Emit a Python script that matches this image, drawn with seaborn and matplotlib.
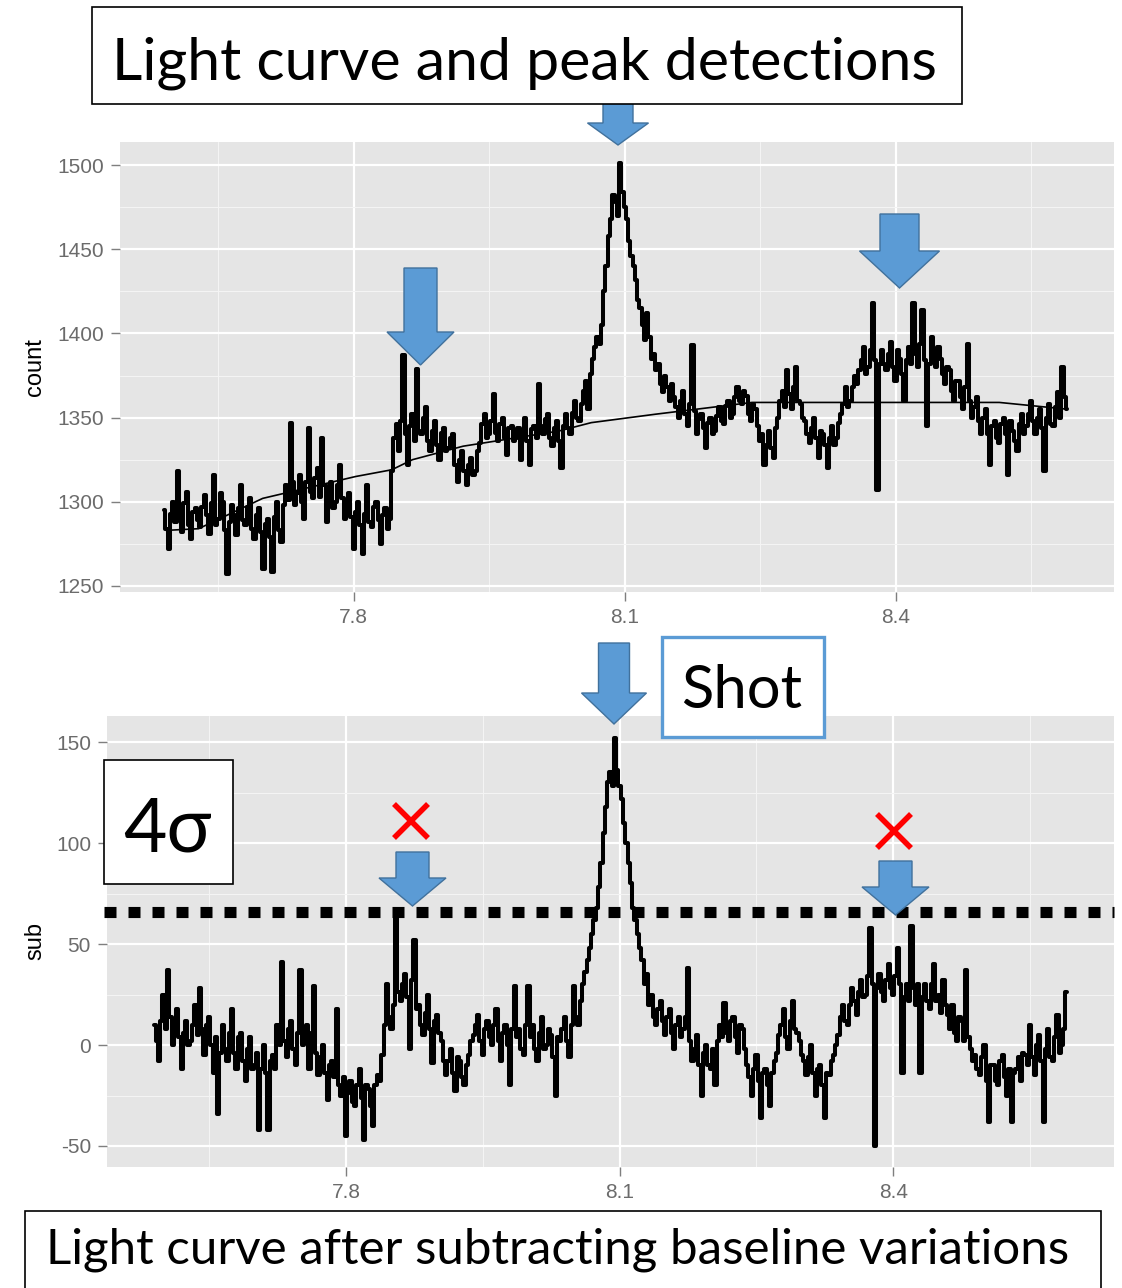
import numpy as np
import pandas as pd
import seaborn as sns
import matplotlib.pyplot as plt
from matplotlib.patches import Rectangle, Polygon
from matplotlib.lines import Line2D

W, H = 1122, 1288
BLUE = "#5B9BD5"
BLUE_EDGE = "#41719C"
PANEL = "#E5E5E5"
ANNOT_FONT = ["Lato", "DejaVu Sans"]

# light curve sampled every 0.0025 starting at 7.59
T_START = 7.59
T_STEP = 0.0025

COUNT = [
    1295, 1284, 1272, 1293, 1300, 1288, 1318, 1296, 1282, 1299, 1306, 1286, 1278, 1294, 1296, 1289, 1285, 1297, 1304, 1292,
    1281, 1299, 1316, 1286, 1290, 1305, 1300, 1283, 1257, 1288, 1298, 1292, 1280, 1296, 1310, 1289, 1286, 1297, 1302, 1284,
    1278, 1292, 1296, 1282, 1260, 1287, 1290, 1279, 1258, 1291, 1300, 1283, 1276, 1298, 1310, 1301, 1347, 1312, 1298, 1305,
    1316, 1300, 1290, 1312, 1344, 1306, 1302, 1314, 1320, 1303, 1338, 1310, 1288, 1304, 1312, 1296, 1300, 1310, 1322, 1302,
    1290, 1298, 1305, 1291, 1272, 1294, 1300, 1286, 1269, 1293, 1310, 1288, 1285, 1297, 1300, 1289, 1275, 1292, 1296, 1284,
    1290, 1318, 1338, 1346, 1330, 1348, 1387, 1340, 1322, 1345, 1352, 1336, 1379, 1342, 1340, 1350, 1356, 1336, 1330, 1342,
    1348, 1334, 1325, 1341, 1344, 1330, 1332, 1338, 1340, 1322, 1312, 1325, 1330, 1318, 1310, 1322, 1326, 1316, 1318, 1330,
    1335, 1346, 1352, 1338, 1340, 1348, 1364, 1341, 1336, 1346, 1350, 1338, 1328, 1344, 1345, 1336, 1338, 1344, 1325, 1338,
    1350, 1336, 1322, 1343, 1345, 1338, 1370, 1345, 1340, 1349, 1352, 1338, 1333, 1344, 1348, 1336, 1320, 1345, 1352, 1344,
    1340, 1353, 1360, 1350, 1348, 1358, 1366, 1372, 1355, 1376, 1385, 1392, 1398, 1394, 1405, 1425, 1440, 1458, 1468, 1482,
    1478, 1470, 1501, 1484, 1475, 1468, 1455, 1446, 1440, 1432, 1420, 1415, 1405, 1396, 1412, 1398, 1385, 1388, 1378, 1382,
    1370, 1365, 1375, 1368, 1360, 1370, 1362, 1356, 1350, 1360, 1366, 1352, 1345, 1358, 1393, 1354, 1340, 1349, 1352, 1344,
    1332, 1347, 1350, 1340, 1342, 1351, 1356, 1348, 1346, 1357, 1360, 1350, 1352, 1362, 1368, 1360, 1358, 1366, 1363, 1352,
    1348, 1358, 1355, 1345, 1336, 1340, 1322, 1334, 1342, 1332, 1326, 1344, 1350, 1360, 1366, 1356, 1378, 1364, 1355, 1368,
    1380, 1360, 1358, 1350, 1348, 1340, 1335, 1344, 1350, 1338, 1326, 1342, 1340, 1334, 1320, 1338, 1345, 1334, 1338, 1347,
    1352, 1358, 1368, 1356, 1360, 1368, 1375, 1370, 1378, 1384, 1392, 1376, 1380, 1390, 1418, 1384, 1307, 1382, 1390, 1382,
    1378, 1388, 1395, 1380, 1372, 1390, 1385, 1376, 1360, 1384, 1392, 1382, 1418, 1388, 1380, 1394, 1414, 1384, 1345, 1382,
    1398, 1388, 1380, 1392, 1385, 1376, 1370, 1380, 1378, 1366, 1360, 1372, 1372, 1362, 1355, 1368, 1394, 1360, 1350, 1356,
    1362, 1348, 1340, 1350, 1355, 1340, 1322, 1345, 1348, 1338, 1335, 1346, 1350, 1340, 1316, 1348, 1342, 1336, 1330, 1346,
    1352, 1340, 1345, 1352, 1360, 1348, 1340, 1350, 1355, 1344, 1318, 1350, 1358, 1346, 1345, 1356, 1365, 1350, 1380, 1362,
    1355,
]

SUB = [
    10, 2, -8, 12, 25, 8, 37, 14, 0, 10, 18, 4, -12, 6, 12, 0, 2, 10, 20, 5,
    28, 8, -5, 10, 14, 0, -14, 4, -34, -4, 10, -2, -8, 6, 18, -4, -12, 4, 6, -8,
    -18, -2, 4, -12, -10, -4, -42, -12, 0, -14, -42, -8, -5, -12, 10, 0, 41, 2, -6, 8,
    12, -2, -10, 6, 37, 0, 2, 10, -12, 6, 29, -4, -15, -6, 0, -14, -27, -10, -8, -16,
    18, -20, -25, -16, -45, -24, -18, -28, -30, -20, -12, -26, -47, -20, -22, -30, -40, -20, -15, -18,
    -5, 10, 30, 14, 8, 20, 64, 26, 22, 30, 35, 24, -2, 32, 52, 18, 20, 10, 5, 16,
    25, 8, -9, 12, 15, 6, 2, -8, -15, -8, -2, -14, -23, -6, -8, -16, -20, -10, -5, 2,
    5, 10, 15, 2, -5, 8, 12, 4, 0, 10, 18, 2, -8, 6, 10, 0, -20, 8, 29, 4,
    8, -2, -5, 10, 29, 4, 10, -2, -8, 6, 14, -2, 0, 8, 5, -6, -25, 4, 2, 8,
    14, 2, -6, 10, 29, 14, 10, 22, 30, 36, 42, 48, 55, 62, 68, 78, 90, 105, 118, 130,
    135, 128, 152, 136, 128, 122, 110, 100, 90, 80, 68, 62, 55, 48, 42, 30, 35, 20, 25, 14,
    10, 18, 22, 12, 5, 14, 18, 6, -2, 10, 14, 4, 8, 14, 38, 2, -8, -2, 5, -10,
    -25, -4, 0, -10, -12, -2, -20, 2, 10, 4, 21, 6, 2, 12, 14, 4, -4, 10, 8, -2,
    -10, -16, -25, -12, -5, -18, -36, -14, -12, -20, -30, -14, -8, -4, 5, 10, 18, 4, -2, 12,
    22, 8, 6, 2, -5, -8, -15, -6, 0, -14, -25, -12, -10, -20, -36, -14, -15, -8, -5, 0,
    5, 14, 20, 12, 10, 20, 28, 22, 15, 26, 32, 24, 25, 34, 58, 30, -50, 28, 35, 26,
    22, 32, 40, 28, 25, 34, 48, 30, -14, 24, 30, 22, 59, 28, 20, 30, -14, 24, 30, 22,
    18, 30, 40, 22, 25, 16, 32, 20, 15, 8, 20, 6, 2, 14, 12, 2, 37, 4, -2, -8,
    -5, -12, -15, -6, 0, -18, -38, -10, -10, -18, -20, -8, -5, -16, -25, -12, -38, -14, -12, -6,
    -18, -4, -5, -10, 10, -6, -15, 0, 5, -8, -38, -2, 8, -6, -8, 4, 15, -4, 0, 8,
    26,
]

# baseline estimate drawn over the top curve
BASE_T = [7.592, 7.628, 7.699, 7.802, 7.842, 7.865, 7.921, 8.027, 8.063, 8.134, 8.241, 8.515, 8.590]
BASE_V = [1283, 1284, 1302, 1315, 1319, 1325, 1333, 1342, 1347, 1352, 1359, 1359, 1355]

THRESH = 66  # 4 sigma level

X_TICKS = [7.8, 8.1, 8.4]
X_MINOR = [7.65, 7.95, 8.25, 8.55]
COUNT_TICKS = [1250, 1300, 1350, 1400, 1450, 1500]
COUNT_MINOR = [1275, 1325, 1375, 1425, 1475]
SUB_TICKS = [-50, 0, 50, 100, 150]
SUB_MINOR = [-25, 25, 75, 125]

time = T_START + T_STEP * np.arange(len(COUNT))
df = pd.DataFrame({"time": time, "count": COUNT, "sub": SUB})

sns.set_theme(style="darkgrid", rc={"axes.facecolor": PANEL, "grid.color": "white"})
plt.rcParams["font.family"] = ["Liberation Sans", "DejaVu Sans"]

fig = plt.figure(figsize=(W / 100, H / 100), dpi=100)
fig.patch.set_facecolor("white")


def fx(x):
    return x / W


def fy(y):
    return 1 - y / H


def panel(l, t, r, b):
    return fig.add_axes([fx(l), fy(b), (r - l) / W, (b - t) / H])


def style(ax, ylabel, yticks, yminor, xlim, ylim, label_x):
    ax.set_xlim(*xlim)
    ax.set_ylim(*ylim)
    ax.set_xticks(X_TICKS)
    ax.set_xticklabels([f"{v:.1f}" for v in X_TICKS])
    ax.set_xticks(X_MINOR, minor=True)
    ax.set_yticks(yticks)
    ax.set_yticklabels([str(v) for v in yticks])
    ax.set_yticks(yminor, minor=True)
    ax.grid(which="major", color="white", lw=1.6)
    ax.grid(which="minor", color="#F4F4F4", lw=0.8)
    ax.tick_params(which="major", bottom=True, left=True, length=6.5, width=1,
                   color="#7f7f7f", labelcolor="#6b6b6b", labelsize=15, pad=5)
    ax.tick_params(which="minor", length=0)
    for s in ax.spines.values():
        s.set_visible(False)
    ax.set_xlabel("")
    ax.set_ylabel(ylabel, fontsize=17, color="black")
    ax.yaxis.set_label_coords(label_x, 0.5)


ax1 = panel(120, 142, 1114, 592)
sns.lineplot(data=df, x="time", y="count", ax=ax1, color="black", lw=2.9,
             drawstyle="steps-mid", estimator=None)
sns.lineplot(x=BASE_T, y=BASE_V, ax=ax1, color="black", lw=1.2, estimator=None)
style(ax1, "count", COUNT_TICKS, COUNT_MINOR, (7.541, 8.642), (1246.4, 1513.7), -0.0744)

ax2 = panel(107, 716, 1114, 1167)
sns.lineplot(data=df, x="time", y="sub", ax=ax2, color="black", lw=2.9,
             drawstyle="steps-mid", estimator=None)
style(ax2, "sub", SUB_TICKS, SUB_MINOR, (7.538, 8.642), (-60.4, 162.9), -0.0606)
ax2.axhline(THRESH, xmin=-0.003, xmax=1, color="black", lw=8,
            ls=(0, (1.08, 1.08)), dash_capstyle="butt", clip_on=False, zorder=5)


def block_arrow(cx, top, body_w, head_w, base, tip):
    pts = [(cx - body_w / 2, top), (cx + body_w / 2, top), (cx + body_w / 2, base),
           (cx + head_w / 2, base), (cx, tip), (cx - head_w / 2, base), (cx - body_w / 2, base)]
    fig.add_artist(Polygon([(fx(x), fy(y)) for x, y in pts], closed=True,
                           transform=fig.transFigure, facecolor=BLUE,
                           edgecolor=BLUE_EDGE, lw=1, zorder=2))


def box(l, t, r, b, edge, lw):
    fig.add_artist(Rectangle((fx(l), fy(b)), (r - l) / W, (b - t) / H,
                             transform=fig.transFigure, facecolor="white",
                             edgecolor=edge, lw=lw, zorder=3))


def cross(cx, cy, half):
    for d in (-1, 1):
        fig.add_artist(Line2D([fx(cx - half), fx(cx + half)], [fy(cy - half * d), fy(cy + half * d)],
                              transform=fig.transFigure, color="red", lw=4,
                              solid_capstyle="butt", zorder=4))


# peak markers
block_arrow(420.5, 268, 33, 67, 332, 365)
block_arrow(618, 95, 30, 61, 123, 145)
block_arrow(899.5, 214, 39, 80, 251, 288)
block_arrow(614, 643, 31, 65, 693, 724)
block_arrow(412.5, 852, 33, 67, 878, 906)
block_arrow(895.5, 861, 33, 67, 887, 915)

cross(411, 821, 17)
cross(894, 831, 17)

box(92, 7, 962, 104, "black", 1.2)
fig.text(fx(524), fy(80), "Light curve and peak detections", ha="center", va="baseline",
         fontsize=42.5, color="black", family=ANNOT_FONT, zorder=4)

box(25, 1211, 1101, 1300, "black", 1.2)
fig.text(fx(558), fy(1264), "Light curve after subtracting baseline variations", ha="center",
         va="baseline", fontsize=35.5, color="black", family=ANNOT_FONT, zorder=4)

box(662, 637, 824, 737, BLUE, 2.4)
fig.text(fx(742), fy(708), "Shot", ha="center", va="baseline", fontsize=43,
         color="black", family=ANNOT_FONT, zorder=4)

box(104, 760, 233, 884, "black", 1.2)
fig.text(fx(167), fy(852), "4σ", ha="center", va="baseline", fontsize=54,
         color="black", family=ANNOT_FONT, zorder=4)

fig.savefig("out.png", dpi=100)
